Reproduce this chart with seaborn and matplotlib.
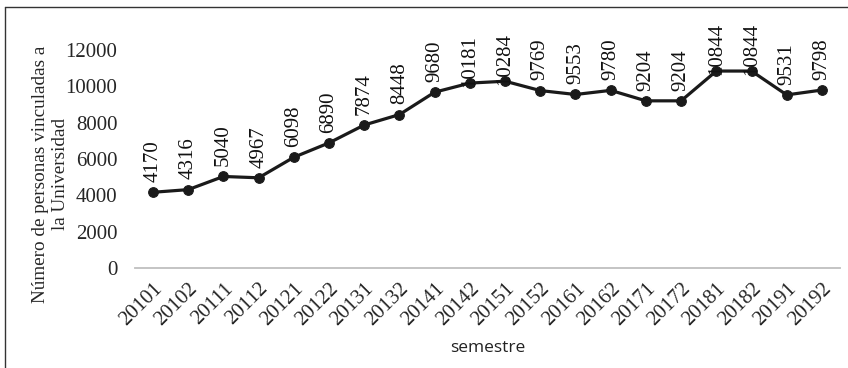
import matplotlib

matplotlib.use("Agg")
import matplotlib.pyplot as plt
import seaborn as sns
import pandas as pd
from matplotlib.lines import Line2D

semestres = [
    "20101", "20102", "20111", "20112", "20121", "20122", "20131", "20132",
    "20141", "20142", "20151", "20152", "20161", "20162", "20171", "20172",
    "20181", "20182", "20191", "20192",
]
personas = [
    4170, 4316, 5040, 4967, 6098, 6890, 7874, 8448, 9680, 10181,
    10284, 9769, 9553, 9780, 9204, 9204, 10844, 10844, 9531, 9798,
]
y_ticks = [0, 2000, 4000, 6000, 8000, 10000, 12000]

df = pd.DataFrame({"semestre": semestres, "personas": personas})

sns.set_style("white")
serif = ["Liberation Serif", "DejaVu Serif"]

fig = plt.figure(figsize=(8.48, 3.68), dpi=100)
ax = fig.add_axes([0.1597, 0.2717, 0.8303, 0.5923])

sns.lineplot(
    data=df, x="semestre", y="personas", ax=ax, sort=False,
    color="#1a1a1a", linewidth=2.3, marker="o", markersize=7,
    markeredgecolor="#1a1a1a",
)

# data labels, rotated like the original
for i, v in enumerate(personas):
    s = str(v)
    off = 31 - (len(s) - 4) * 9
    ax.annotate(
        s, (i, v), xytext=(0, off * 0.72), textcoords="offset points",
        rotation=90, ha="center", va="center", fontsize=15,
        family=serif, color="#111111", annotation_clip=False,
    )

ax.set_xlim(-0.5, len(semestres) - 0.5)
ax.set_ylim(0, 12000)
ax.set_yticks(y_ticks)
ax.set_yticklabels([str(t) for t in y_ticks], family=serif, fontsize=15)
ax.set_xticks(range(len(semestres)))
ax.set_xticklabels(
    semestres, rotation=45, ha="right", rotation_mode="anchor",
    family=serif, fontsize=15,
)
ax.tick_params(axis="y", length=0, pad=13)
ax.tick_params(axis="x", length=0, pad=8)

for side in ["top", "right", "left"]:
    ax.spines[side].set_visible(False)
ax.spines["bottom"].set_color("#bfbfbf")
ax.spines["bottom"].set_linewidth(1.3)

ax.set_ylabel(
    "Número de personas vinculadas a\nla Universidad",
    family=serif, fontsize=13.8, linespacing=1.25,
)
ax.yaxis.set_label_coords(-0.094, 0.43)
ax.set_xlabel("semestre", family="Open Sans", fontsize=12.5, color="#222222")
ax.xaxis.set_label_coords(0.5, -0.33)

# outer frame (left and top edges visible)
fig.add_artist(Line2D([5 / 848, 5 / 848], [0, 1 - 7 / 368],
                      transform=fig.transFigure, color="#333333", lw=1))
fig.add_artist(Line2D([5 / 848, 1], [1 - 7 / 368, 1 - 7 / 368],
                      transform=fig.transFigure, color="#333333", lw=1))

plt.savefig("out.png", dpi=100)
plt.close()
